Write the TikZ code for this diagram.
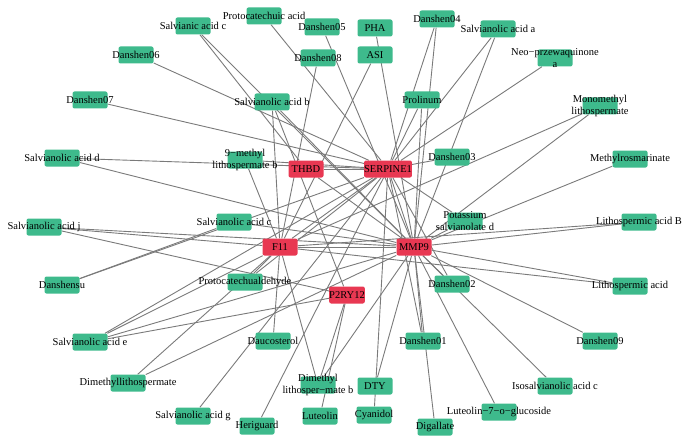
\documentclass[tikz,border=0pt]{standalone}
\usepackage{fontspec}
\setmainfont{Liberation Serif}
\pgfdeclarelayer{bg}
\pgfsetlayers{bg,main}
\definecolor{gfill}{RGB}{62,186,140}
\definecolor{rfill}{RGB}{232,56,82}
\definecolor{edgec}{RGB}{122,122,122}
\tikzset{
  gbox/.style={rectangle, rounded corners=2pt, fill=gfill, minimum width=35pt, minimum height=17pt, inner sep=0pt},
  rbox/.style={rectangle, rounded corners=2pt, fill=rfill, minimum width=35pt, minimum height=17pt, inner sep=0pt, font=\fontsize{10.5}{12}\selectfont},
  lbl/.style={inner sep=0pt, font=\fontsize{10.5}{12}\selectfont, align=center, text=black},
  edge/.style={draw=edgec, line width=0.9pt}
}
\begin{document}
\begin{tikzpicture}[x=1pt,y=-1pt]
\useasboundingbox (0,0) rectangle (690,441);
% targets
\node[rbox] (THBD) at (306,169) {THBD};
\node[rbox] (SERP) at (388,169) {SERPINE1};
\node[rbox] (F11) at (280,247) {F11};
\node[rbox] (MMP9) at (414,247) {MMP9};
\node[rbox] (P2RY) at (347,295) {P2RY12};
% compounds
\node[gbox, label={[lbl]center:Salvianic acid c}] (sac) at (193,26) {};
\node[gbox, label={[lbl]center:Protocatechuic acid}] (pca) at (264,16) {};
\node[gbox, label={[lbl]center:Danshen05}] (d05) at (322,27) {};
\node[gbox, label={[lbl]center:PHA}] (pha) at (375,28) {};
\node[gbox, label={[lbl]center:ASI}] (asi) at (375,55) {};
\node[gbox, label={[lbl]center:Danshen08}] (d08) at (318,58) {};
\node[gbox, label={[lbl]center:Danshen04}] (d04) at (437,19) {};
\node[gbox, label={[lbl]center:Salvianolic acid a}] (saa) at (498,29) {};
\node[gbox, label={[lbl]center:Neo−przewaquinone\\a}] (neo) at (555,58) {};
\node[gbox, label={[lbl]center:Monomethyl\\lithospermate}] (mono) at (600,106) {};
\node[gbox, label={[lbl]center:Danshen06}] (d06) at (136,55) {};
\node[gbox, label={[lbl]center:Danshen07}] (d07) at (90,100) {};
\node[gbox, label={[lbl]center:Salvianolic acid b}] (sab) at (272,102) {};
\node[gbox, label={[lbl]center:Prolinum}] (prol) at (422,100) {};
\node[gbox, label={[lbl]center:Salvianolic acid d}] (sad) at (62,158) {};
\node[gbox, label={[lbl]center:9−methyl\\lithospermate b}] (nine) at (245,160) {};
\node[gbox, label={[lbl]center:Danshen03}] (d03) at (452,157) {};
\node[gbox, label={[lbl]center:Methylrosmarinate}] (mros) at (630,159) {};
\node[gbox, label={[lbl]center:Potassium\\salvianolate d}] (pot) at (465,221) {};
\node[gbox, label={[lbl]center:Salvianolic acid j}] (saj) at (44,227) {};
\node[gbox, label={[lbl]center:Salvianolic acid c}] (sacc) at (234,222) {};
\node[gbox, label={[lbl]center:Lithospermic acid B}] (lab) at (639,222) {};
\node[gbox, label={[lbl]center:Danshensu}] (dshsu) at (62,285) {};
\node[gbox, label={[lbl]center:Protocatechualdehyde}] (pcal) at (245,282) {};
\node[gbox, label={[lbl]center:Lithospermic acid}] (la) at (630,286) {};
\node[gbox, label={[lbl]center:Danshen02}] (d02) at (452,284) {};
\node[gbox, label={[lbl]center:Salvianolic acid e}] (sae) at (90,342) {};
\node[gbox, label={[lbl]center:Daucosterol}] (dauc) at (273,341) {};
\node[gbox, label={[lbl]center:Danshen01}] (d01) at (423,341) {};
\node[gbox, label={[lbl]center:Danshen09}] (d09) at (600,341) {};
\node[gbox, label={[lbl]center:Dimethyllithospermate}] (dml) at (128,383) {};
\node[gbox, label={[lbl]center:Isosalvianolic acid c}] (iso) at (555,386) {};
\node[gbox, label={[lbl]center:Dimethyl\\lithosper−mate b}] (dmlb) at (318,385) {};
\node[gbox, label={[lbl]center:DTY}] (dty) at (375,386) {};
\node[gbox, label={[lbl]center:Cyanidol}] (cya) at (374,415) {};
\node[gbox, label={[lbl]center:Salvianolic acid g}] (sag) at (193,416) {};
\node[gbox, label={[lbl]center:Heriguard}] (her) at (257,426) {};
\node[gbox, label={[lbl]center:Luteolin}] (lut) at (320,416) {};
\node[gbox, label={[lbl]center:Luteolin−7−o−glucoside}] (l7g) at (499,412) {};
\node[gbox, label={[lbl]center:Digallate}] (dig) at (435,427) {};
\begin{pgfonlayer}{bg}
\foreach \a/\b in {THBD/SERP, F11/MMP9, F11/SERP, THBD/MMP9, SERP/MMP9,
  sac/THBD, sac/MMP9, pca/SERP, d05/MMP9, d08/F11, pha/MMP9, asi/F11,
  d04/SERP, d04/MMP9, saa/SERP, saa/MMP9, neo/SERP, mono/F11, mono/MMP9,
  d06/SERP, d07/SERP, sab/F11, sab/P2RY, sab/MMP9, prol/SERP, prol/MMP9,
  sad/SERP, sad/MMP9, nine/SERP, nine/F11, d03/SERP, mros/MMP9, pot/SERP, pot/MMP9,
  saj/F11, saj/MMP9, saj/P2RY, sacc/MMP9, lab/F11, lab/MMP9,
  pcal/F11, pcal/SERP, la/F11, la/MMP9, d02/SERP, d02/MMP9,
  sae/SERP, sae/F11, sae/MMP9, sae/P2RY, dauc/F11, d01/SERP, d01/MMP9, d09/MMP9,
  dml/F11, dml/MMP9, iso/MMP9, dmlb/F11, dmlb/P2RY, dmlb/MMP9, dty/MMP9,
  cya/SERP, sag/SERP, her/SERP, lut/P2RY, l7g/MMP9, dig/MMP9, dshsu/SERP, dshsu/sacc}
  \draw[edge] (\a) -- (\b);
\end{pgfonlayer}
\end{tikzpicture}
\end{document}
